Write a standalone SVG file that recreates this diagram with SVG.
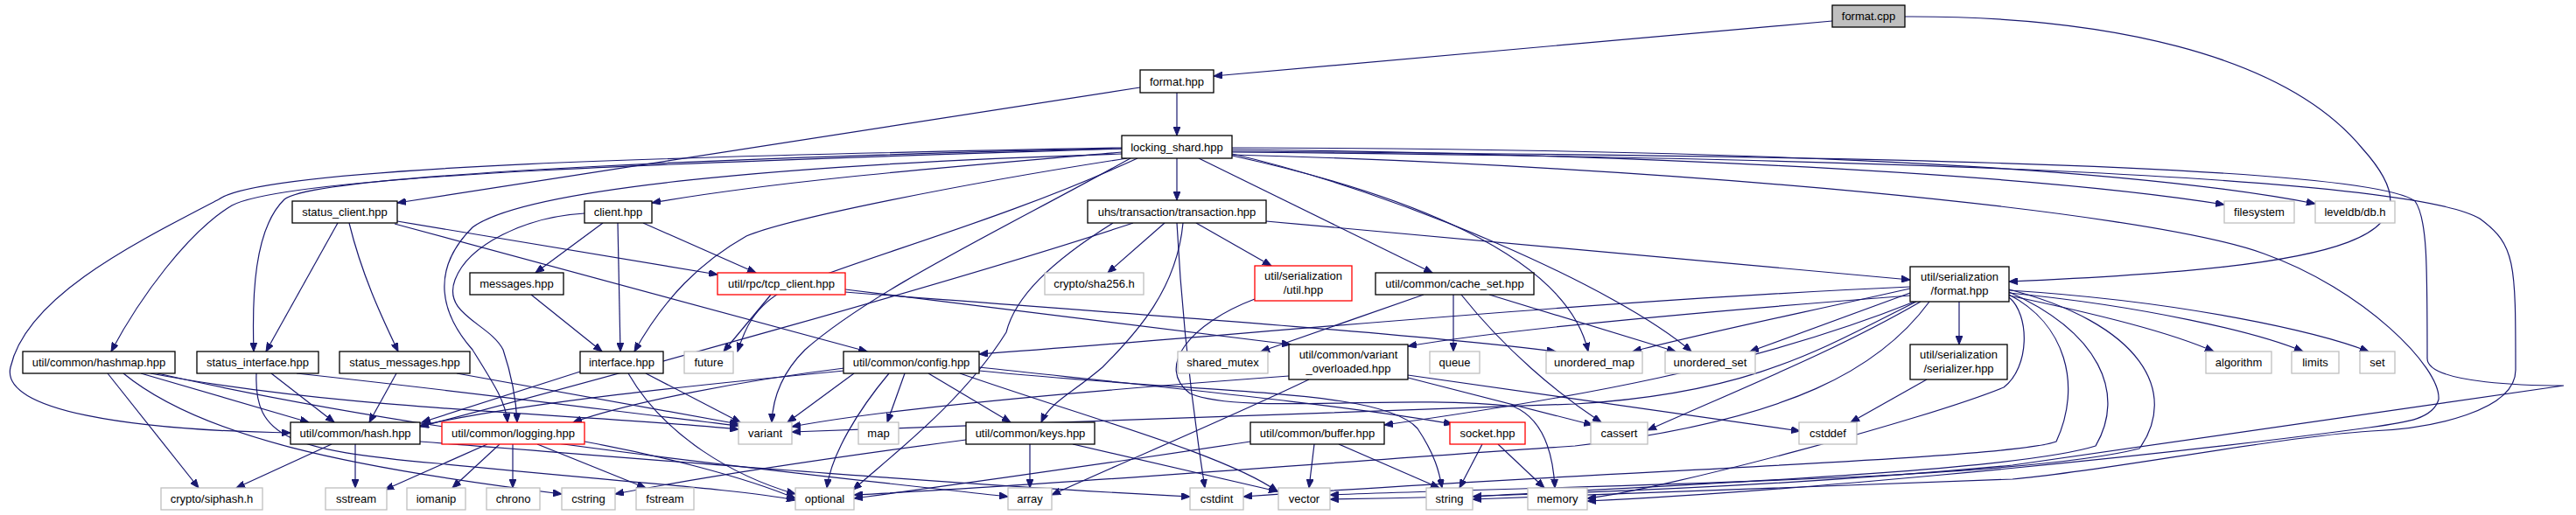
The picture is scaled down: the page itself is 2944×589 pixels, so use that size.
<svg xmlns="http://www.w3.org/2000/svg" width="2944" height="589" viewBox="0 0 2944 589">
<style>
.n rect{fill:#fff;stroke:#000;stroke-width:1.3}
.g rect{fill:#fff;stroke:#bfbfbf;stroke-width:1.3}
.r rect{fill:#fff;stroke:#ff0000;stroke-width:1.3}
.root rect{fill:#bfbfbf;stroke:#000;stroke-width:1.3}
text{font-family:"Liberation Sans",Arial,sans-serif;font-size:13px;fill:#000;text-anchor:middle}
#edges path{fill:none;stroke:#191970;stroke-width:1.2;marker-end:url(#ah)}
</style>
<defs>
<marker id="ah" markerWidth="11" markerHeight="8" refX="10" refY="4" orient="auto" markerUnits="userSpaceOnUse"><path d="M0,0 L10,4 L0,8 z" fill="#191970" stroke="#191970" stroke-width="1"/></marker>
</defs>
<rect width="2944" height="589" fill="#fff"/>
<g id="edges">
<path d="M2094,24 L1387,87"/>
<path d="M2177,19 C2400,18 2610,60 2700,170 C2790,270 2700,305 2296,322"/>
<path d="M1345,106 L1345,155"/>
<path d="M1303,100 L454,232"/>
<path d="M1282,174 C1100,190 900,205 745,232"/>
<path d="M1345,181 L1345,229"/>
<path d="M1370,181 L1637,312"/>
<path d="M1408,171 C1800,175 2300,195 2542,234"/>
<path d="M1408,169 C1900,170 2400,185 2646,233"/>
<path d="M1282,170 C800,185 330,200 265,235 C215,265 160,340 127,402"/>
<path d="M1282,170 C900,178 360,198 325,228 C290,262 288,340 290,402"/>
<path d="M1282,169 C800,178 300,190 250,228 C150,280 30,340 12,420 C0,470 150,492 332,495"/>
<path d="M386,255 L304,402"/>
<path d="M399,255 C415,320 440,370 455,402"/>
<path d="M454,253 L820,314"/>
<path d="M451,256 L991,402"/>
<path d="M689,255 L612,312"/>
<path d="M706,255 L709,402"/>
<path d="M735,255 L864,312"/>
<path d="M668,244 C600,248 535,280 520,320 C505,360 560,370 575,400 C585,430 590,460 591,483"/>
<path d="M1282,176 C900,188 600,215 540,260 C490,310 505,360 540,400 C565,440 578,460 580,483"/>
<path d="M607,337 L688,402"/>
<path d="M1288,181 C1100,210 900,250 853,270 C800,300 760,340 725,402"/>
<path d="M1300,181 C1150,250 1000,290 900,330 C860,350 850,380 843,402"/>
<path d="M881,337 L827,402"/>
<path d="M966,331 L1475,394"/>
<path d="M966,334 C1300,360 1600,380 1778,402"/>
<path d="M1331,255 L1266,312"/>
<path d="M1367,255 L1453,304"/>
<path d="M1447,253 L2183,320"/>
<path d="M1345,255 C1350,350 1360,450 1377,558"/>
<path d="M1352,255 C1345,330 1300,380 1260,420 C1225,450 1200,460 1190,483"/>
<path d="M1272,255 C1200,300 1160,340 1150,380 C1100,460 1020,520 975,560"/>
<path d="M1295,255 C1100,320 700,430 480,488"/>
<path d="M1627,337 L1441,402"/>
<path d="M1661,337 L1661,402"/>
<path d="M1670,337 C1720,400 1780,450 1830,483"/>
<path d="M1702,337 L1915,402"/>
<path d="M1434,342 C1360,370 1320,420 1360,450 C1420,475 1600,450 1730,465 C1765,480 1775,520 1777,558"/>
<path d="M1473,430 C1200,450 1000,470 905,488"/>
<path d="M1496,434 C1400,480 1280,530 1202,566"/>
<path d="M1609,432 L1820,486"/>
<path d="M1609,429 L2057,493"/>
<path d="M976,427 L900,483"/>
<path d="M1034,427 L1014,483"/>
<path d="M1016,427 C980,470 950,520 945,558"/>
<path d="M1061,427 L1155,483"/>
<path d="M1097,427 C1250,480 1400,520 1460,562"/>
<path d="M965,424 C800,440 600,460 480,487"/>
<path d="M965,421 C850,435 720,460 655,483"/>
<path d="M1119,420 C1350,445 1550,465 1660,485"/>
<path d="M1119,424 C1400,452 1580,445 1620,490 C1640,520 1645,540 1648,558"/>
<path d="M1177,508 L1177,558"/>
<path d="M1226,508 L1460,562"/>
<path d="M1104,503 C900,530 780,550 703,565"/>
<path d="M1429,505 C1200,540 1050,560 976,570"/>
<path d="M1502,508 L1496,558"/>
<path d="M1530,508 L1645,558"/>
<path d="M1694,508 L1668,558"/>
<path d="M1712,508 L1765,558"/>
<path d="M2202,434 L2115,483"/>
<path d="M2239,345 L2239,394"/>
<path d="M2296,338 C2400,360 2480,380 2530,402"/>
<path d="M2296,335 C2450,350 2580,380 2632,402"/>
<path d="M2296,332 C2500,345 2650,380 2707,402"/>
<path d="M2183,335 L2000,402"/>
<path d="M2183,330 C2050,360 1950,380 1866,402"/>
<path d="M2183,328 C1800,345 1400,385 1119,405"/>
<path d="M2183,338 C1900,360 1700,380 1609,396"/>
<path d="M2188,345 C2000,420 1800,455 1582,486"/>
<path d="M2195,345 C2100,400 2000,440 1883,492"/>
<path d="M2190,345 C2080,400 2000,450 1800,462 C1400,478 1100,486 905,494"/>
<path d="M2205,345 C2150,420 2050,480 1800,510 C1500,530 1200,555 976,566"/>
<path d="M2296,340 C2320,360 2320,420 2290,443 C2200,480 1900,560 1814,570"/>
<path d="M2296,337 C2360,370 2380,440 2350,505 C2300,525 1800,540 1421,568"/>
<path d="M2294,333 C2400,380 2430,450 2395,510 C2300,540 1900,555 1683,568"/>
<path d="M2292,330 C2450,370 2490,450 2445,513 C2300,550 1800,555 1520,566"/>
<path d="M1408,173 C2000,178 2700,185 2760,230 C2774,250 2774,300 2774,410 C2774,440 2900,441 2930,441 L2300,532 C2000,560 1700,568 1520,571"/>
<path d="M1408,174 C2100,180 2750,200 2834,250 C2875,280 2875,300 2875,423 C2875,470 2780,490 2710,493 C2600,500 2400,540 2300,548 C2000,560 1800,565 1683,571"/>
<path d="M1408,177 C1900,190 2450,240 2587,290 C2700,330 2790,420 2787,457 C2780,480 2750,483 2700,490 C2400,530 2000,565 1814,573"/>
<path d="M1292,181 C1150,260 1000,330 920,400 C890,430 883,460 882,483"/>
<path d="M1408,178 C1600,220 1790,290 1815,402"/>
<path d="M1408,176 C1600,220 1850,330 1933,402"/>
<path d="M663,425 L482,483"/>
<path d="M738,427 L846,483"/>
<path d="M718,427 C760,500 840,545 909,565"/>
<path d="M123,427 L227,558"/>
<path d="M161,427 L353,483"/>
<path d="M172,427 C400,470 650,472 844,491"/>
<path d="M141,427 C230,500 400,535 642,565"/>
<path d="M180,427 C500,500 900,540 1152,568"/>
<path d="M310,427 L382,483"/>
<path d="M339,427 C550,450 700,470 844,487"/>
<path d="M293,427 C290,500 330,515 500,530 C700,550 850,560 909,572"/>
<path d="M453,427 L422,483"/>
<path d="M522,427 L844,485"/>
<path d="M557,508 L440,560"/>
<path d="M571,508 L517,558"/>
<path d="M586,508 L586,558"/>
<path d="M614,508 L738,558"/>
<path d="M668,505 C750,520 850,545 909,570"/>
<path d="M379,508 L270,558"/>
<path d="M406,508 L406,558"/>
<path d="M480,505 C800,530 1100,555 1360,568"/>
</g>
<g id="format_cpp" class="root"><rect x="2094" y="6" width="83" height="25"/><text x="2135.5" y="23">format.cpp</text></g>
<g id="format_hpp" class="n"><rect x="1303" y="80" width="84" height="26"/><text x="1345" y="97.5">format.hpp</text></g>
<g id="locking_shard" class="n"><rect x="1282" y="155" width="126" height="26"/><text x="1345" y="172.5">locking_shard.hpp</text></g>
<g id="status_client" class="n"><rect x="334" y="230" width="120" height="25"/><text x="394" y="247">status_client.hpp</text></g>
<g id="client" class="n"><rect x="668" y="230" width="77" height="25"/><text x="706.5" y="247">client.hpp</text></g>
<g id="transaction" class="n"><rect x="1243" y="229" width="204" height="26"/><text x="1345" y="246.5">uhs/transaction/transaction.hpp</text></g>
<g id="filesystem" class="g"><rect x="2542" y="230" width="80" height="25"/><text x="2582" y="247">filesystem</text></g>
<g id="leveldb" class="g"><rect x="2646" y="230" width="91" height="25"/><text x="2691.5" y="247">leveldb/db.h</text></g>
<g id="messages" class="n"><rect x="537" y="312" width="107" height="25"/><text x="590.5" y="329">messages.hpp</text></g>
<g id="tcp_client" class="r"><rect x="820" y="312" width="146" height="25"/><text x="893" y="329">util/rpc/tcp_client.hpp</text></g>
<g id="sha256" class="g"><rect x="1194" y="312" width="113" height="25"/><text x="1250.5" y="329">crypto/sha256.h</text></g>
<g id="ser_util" class="r"><rect x="1434" y="304" width="111" height="40"/><text x="1489.5" y="320">util/serialization</text><text x="1489.5" y="336">/util.hpp</text></g>
<g id="cache_set" class="n"><rect x="1572" y="312" width="181" height="25"/><text x="1662.5" y="329">util/common/cache_set.hpp</text></g>
<g id="ser_format" class="n"><rect x="2183" y="305" width="113" height="40"/><text x="2239.5" y="321">util/serialization</text><text x="2239.5" y="337">/format.hpp</text></g>
<g id="hashmap" class="n"><rect x="26" y="402" width="174" height="25"/><text x="113" y="419">util/common/hashmap.hpp</text></g>
<g id="status_interface" class="n"><rect x="225" y="402" width="139" height="25"/><text x="294.5" y="419">status_interface.hpp</text></g>
<g id="status_messages" class="n"><rect x="388" y="402" width="149" height="25"/><text x="462.5" y="419">status_messages.hpp</text></g>
<g id="interface" class="n"><rect x="663" y="402" width="95" height="25"/><text x="710.5" y="419">interface.hpp</text></g>
<g id="future" class="g"><rect x="782" y="402" width="56" height="25"/><text x="810" y="419">future</text></g>
<g id="config" class="n"><rect x="964" y="402" width="155" height="25"/><text x="1041.5" y="419">util/common/config.hpp</text></g>
<g id="shared_mutex" class="g"><rect x="1346" y="402" width="103" height="25"/><text x="1397.5" y="419">shared_mutex</text></g>
<g id="variant_overloaded" class="n"><rect x="1473" y="394" width="136" height="40"/><text x="1541" y="410">util/common/variant</text><text x="1541" y="426">_overloaded.hpp</text></g>
<g id="queue" class="g"><rect x="1634" y="402" width="57" height="25"/><text x="1662.5" y="419">queue</text></g>
<g id="unordered_map" class="g"><rect x="1767" y="402" width="110" height="25"/><text x="1822" y="419">unordered_map</text></g>
<g id="unordered_set" class="g"><rect x="1903" y="402" width="103" height="25"/><text x="1954.5" y="419">unordered_set</text></g>
<g id="serializer" class="n"><rect x="2183" y="394" width="111" height="40"/><text x="2238.5" y="410">util/serialization</text><text x="2238.5" y="426">/serializer.hpp</text></g>
<g id="algorithm" class="g"><rect x="2521" y="402" width="75" height="25"/><text x="2558.5" y="419">algorithm</text></g>
<g id="limits" class="g"><rect x="2619" y="402" width="54" height="25"/><text x="2646" y="419">limits</text></g>
<g id="set" class="g"><rect x="2697" y="402" width="40" height="25"/><text x="2717" y="419">set</text></g>
<g id="hash" class="n"><rect x="332" y="483" width="148" height="25"/><text x="406" y="500">util/common/hash.hpp</text></g>
<g id="logging" class="r"><rect x="505" y="483" width="163" height="25"/><text x="586.5" y="500">util/common/logging.hpp</text></g>
<g id="variant" class="g"><rect x="844" y="483" width="61" height="25"/><text x="874.5" y="500">variant</text></g>
<g id="map" class="g"><rect x="981" y="483" width="46" height="25"/><text x="1004" y="500">map</text></g>
<g id="keys" class="n"><rect x="1104" y="483" width="147" height="25"/><text x="1177.5" y="500">util/common/keys.hpp</text></g>
<g id="buffer" class="n"><rect x="1429" y="483" width="153" height="25"/><text x="1505.5" y="500">util/common/buffer.hpp</text></g>
<g id="socket" class="r"><rect x="1657" y="483" width="86" height="25"/><text x="1700" y="500">socket.hpp</text></g>
<g id="cassert" class="g"><rect x="1818" y="483" width="65" height="25"/><text x="1850.5" y="500">cassert</text></g>
<g id="cstddef" class="g"><rect x="2056" y="483" width="66" height="25"/><text x="2089" y="500">cstddef</text></g>
<g id="siphash" class="g"><rect x="184" y="558" width="116" height="25"/><text x="242" y="575">crypto/siphash.h</text></g>
<g id="sstream" class="g"><rect x="372" y="558" width="70" height="25"/><text x="407" y="575">sstream</text></g>
<g id="iomanip" class="g"><rect x="465" y="558" width="67" height="25"/><text x="498.5" y="575">iomanip</text></g>
<g id="chrono" class="g"><rect x="556" y="558" width="61" height="25"/><text x="586.5" y="575">chrono</text></g>
<g id="cstring" class="g"><rect x="642" y="558" width="61" height="25"/><text x="672.5" y="575">cstring</text></g>
<g id="fstream" class="g"><rect x="727" y="558" width="66" height="25"/><text x="760" y="575">fstream</text></g>
<g id="optional" class="g"><rect x="909" y="558" width="67" height="25"/><text x="942.5" y="575">optional</text></g>
<g id="array" class="g"><rect x="1152" y="558" width="50" height="25"/><text x="1177" y="575">array</text></g>
<g id="cstdint" class="g"><rect x="1360" y="558" width="61" height="25"/><text x="1390.5" y="575">cstdint</text></g>
<g id="vector" class="g"><rect x="1461" y="558" width="59" height="25"/><text x="1490.5" y="575">vector</text></g>
<g id="string" class="g"><rect x="1630" y="558" width="53" height="25"/><text x="1656.5" y="575">string</text></g>
<g id="memory" class="g"><rect x="1746" y="558" width="68" height="25"/><text x="1780" y="575">memory</text></g>
</svg>
